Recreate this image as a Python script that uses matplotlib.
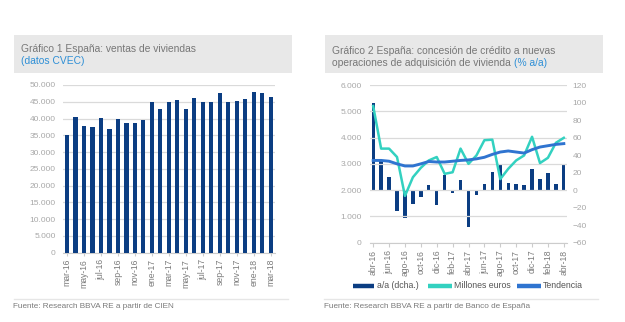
import matplotlib
matplotlib.use("Agg")
import matplotlib.pyplot as plt
from matplotlib.patches import Rectangle
from matplotlib.lines import Line2D

plt.rcParams['font.family'] = ['Liberation Sans', 'DejaVu Sans']

# ---------------- data ----------------
months1 = ["mar-16", "abr-16", "may-16", "jun-16", "jul-16", "ago-16", "sep-16", "oct-16",
           "nov-16", "dic-16", "ene-17", "feb-17", "mar-17", "abr-17", "may-17", "jun-17",
           "jul-17", "ago-17", "sep-17", "oct-17", "nov-17", "dic-17", "ene-18", "feb-18", "mar-18"]
ventas = [35200, 40500, 37700, 37400, 40200, 36900, 39900, 38800, 38800, 39600,
          45000, 42900, 45000, 45500, 42900, 46000, 45000, 45000, 47700, 44800,
          45200, 45700, 48000, 47700, 46300]

months2 = ["abr-16", "may-16", "jun-16", "jul-16", "ago-16", "sep-16", "oct-16", "nov-16",
           "dic-16", "ene-17", "feb-17", "mar-17", "abr-17", "may-17", "jun-17", "jul-17",
           "ago-17", "sep-17", "oct-17", "nov-17", "dic-17", "ene-18", "feb-18", "mar-18", "abr-18"]
aa_dcha = [99, 33, 15, -24, -32, -16, -8, 6, -17, 17, -3, 11, -42, -6, 7, 21,
           30, 8, 6.5, 5.5, 24, 13, 20, 7, 30]
millones = [5200, 3580, 3580, 3260, 1780, 2490, 2850, 3130, 3260, 2620, 2680, 3580,
            3000, 3320, 3900, 3920, 2420, 2810, 3130, 3320, 4030, 3030, 3230, 3800, 3990]
tendencia = [3130, 3130, 3100, 3000, 2920, 2920, 3000, 3090, 3070, 3070, 3100, 3130,
             3150, 3190, 3250, 3360, 3450, 3490, 3450, 3410, 3540, 3640, 3690, 3740, 3770]
legend_labels = ["a/a (dcha.)", "Millones euros", "Tendencia"]

W, H = 625, 322
fig = plt.figure(figsize=(W / 100, H / 100), dpi=100)
fig.patch.set_facecolor("white")

def fx(px):
    return px / W

def fy(py):
    return 1 - py / H

BAR = "#0b3d82"
CYAN = "#33d1c0"
TEND = "#2f74d0"
GRID = "#dadada"
YLAB = "#a8a8a8"
XLAB = "#7a7a7a"
TITLE = "#777777"
BLUE_TXT = "#2e8fd6"

# ---------------- title boxes ----------------
for x0, x1 in [(14, 292), (325, 603)]:
    fig.patches.append(Rectangle((fx(x0), fy(73)), fx(x1) - fx(x0), fy(35) - fy(73),
                                 transform=fig.transFigure, facecolor="#e8e8e8",
                                 edgecolor="none", zorder=0))

TFS = 7.4
fig.text(fx(21), fy(49), "Gráfico 1 España: ventas de viviendas", fontsize=TFS,
         color=TITLE, va="center", ha="left")
fig.text(fx(21), fy(61.5), "(datos CVEC)", fontsize=TFS, color=BLUE_TXT, va="center", ha="left")

fig.text(fx(332), fy(50.5), "Gráfico 2 España: concesión de crédito a nuevas", fontsize=TFS,
         color=TITLE, va="center", ha="left")
t = fig.text(fx(332), fy(62.5), "operaciones de adquisición de vivienda ", fontsize=TFS,
             color=TITLE, va="center", ha="left")
fig.canvas.draw()
bb = t.get_window_extent()
fig.text(bb.x1 / W, fy(62.5), "(% a/a)", fontsize=TFS, color=BLUE_TXT, va="center", ha="left")

# ---------------- chart 1 ----------------
ax1 = fig.add_axes([fx(62.7), fy(252.7), fx(275) - fx(62.7), fy(85) - fy(252.7)])
x1 = list(range(len(months1)))
ax1.bar(x1, ventas, width=0.5, color=BAR, zorder=3)
ax1.set_xlim(-0.5, len(months1) - 0.5)
ax1.set_ylim(0, 50000)
ax1.set_yticks(range(0, 50001, 5000))
ax1.set_yticklabels([f"{v:,}".replace(",", ".") for v in range(0, 50001, 5000)])
ax1.yaxis.grid(True, color=GRID, linewidth=0.9, zorder=0)
ax1.set_xticks(x1[::2])
ax1.set_xticklabels(months1[::2], rotation=90)
for s in ["top", "right", "left"]:
    ax1.spines[s].set_visible(False)
ax1.spines["bottom"].set_color("#cccccc")
ax1.tick_params(axis="y", length=0, labelsize=6, labelcolor=YLAB, pad=5)
ax1.tick_params(axis="x", length=2.5, color="#cccccc", labelsize=6.2, labelcolor=XLAB, pad=2)

# ---------------- chart 2 ----------------
axl = fig.add_axes([fx(370), fy(242.7), fx(567) - fx(370), fy(85) - fy(242.7)])
axr = axl.twinx()
x2 = list(range(len(months2)))
axr.bar(x2, aa_dcha, width=0.42, color=BAR, zorder=2)
axl.plot(x2, millones, color=CYAN, linewidth=1.8, zorder=4)
axl.plot(x2, tendencia, color=TEND, linewidth=2.1, zorder=5)
axl.set_zorder(axr.get_zorder() + 1)
axl.patch.set_visible(False)

axl.set_xlim(-0.4, len(months2) - 0.6)
axl.set_ylim(0, 6000)
axr.set_ylim(-60, 120)
axl.set_yticks(range(0, 6001, 1000))
axl.set_yticklabels([f"{v:,}".replace(",", ".") for v in range(0, 6001, 1000)])
axr.set_yticks(range(-60, 121, 20))
axl.yaxis.grid(True, color=GRID, linewidth=0.9, zorder=0)
axl.set_axisbelow(True)
axl.set_xticks(x2[::2])
axl.set_xticklabels(months2[::2], rotation=90)
for a in (axl, axr):
    for s in ["top", "right", "left"]:
        a.spines[s].set_visible(False)
    a.spines["bottom"].set_color("#cccccc")
axr.spines["bottom"].set_visible(False)
axl.tick_params(axis="y", length=0, labelsize=6, labelcolor=YLAB, pad=6)
axr.tick_params(axis="y", length=0, labelsize=6, labelcolor=YLAB, pad=4)
axl.tick_params(axis="x", length=3, color="#cccccc", labelsize=6.2, labelcolor=XLAB, pad=2)

# ---------------- legend (manual layout) ----------------
leg_y = fy(285.7)
for (lx0, lx1, tx), col, lab in zip([(353, 374, 377), (428, 452, 454), (517, 541, 543)],
                                    [BAR, CYAN, TEND], legend_labels):
    fig.lines.append(Line2D([fx(lx0), fx(lx1)], [leg_y, leg_y], transform=fig.transFigure,
                            color=col, linewidth=3.2, solid_capstyle="butt"))
    fig.text(fx(tx), leg_y, lab, fontsize=6.3, color="#555555", va="center", ha="left")

# ---------------- sources ----------------
for x0, x1_ in [(14, 288), (324, 598)]:
    fig.lines.append(Line2D([fx(x0), fx(x1_)], [fy(299), fy(299)], transform=fig.transFigure,
                            color="#e6e6e6", linewidth=1))
fig.text(fx(13), fy(307), "Fuente: Research BBVA RE a partir de CIEN", fontsize=5.9,
         color="#7a7a7a", va="center", ha="left")
fig.text(fx(324), fy(307), "Fuente: Research BBVA RE a partir de Banco de España", fontsize=5.9,
         color="#7a7a7a", va="center", ha="left")

fig.savefig("out.png", dpi=100, facecolor="white")
